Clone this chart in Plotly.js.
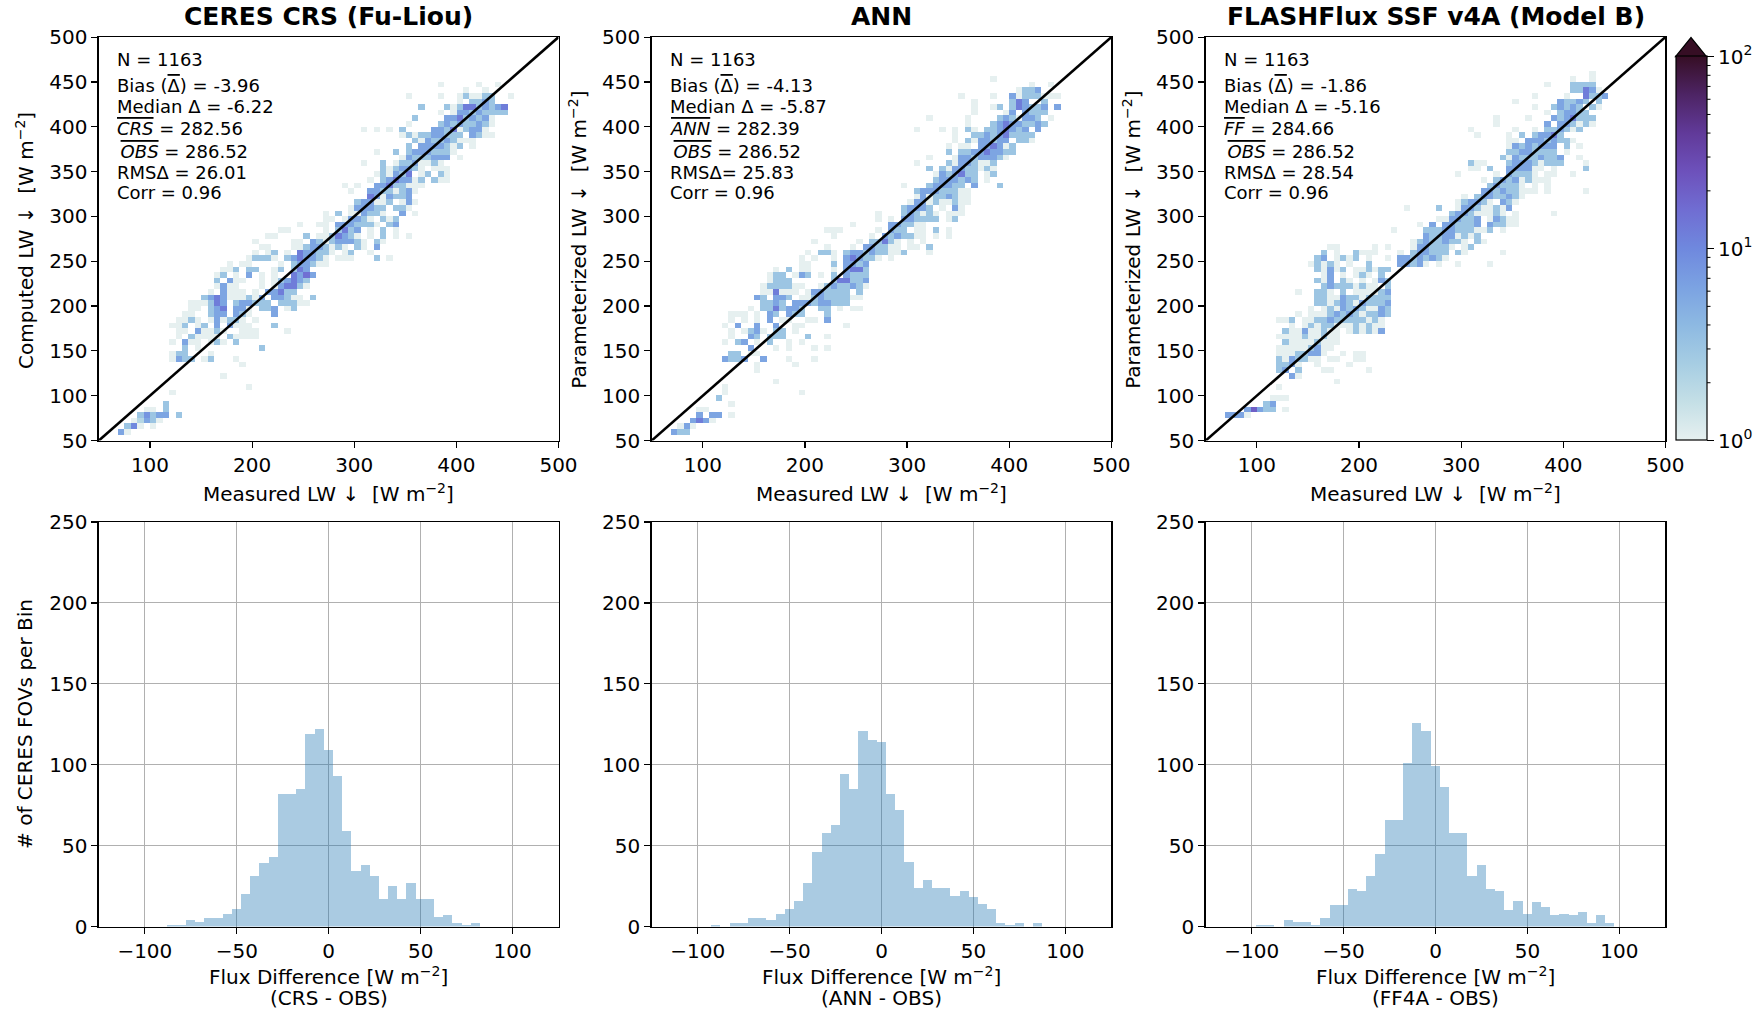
<!DOCTYPE html>
<html><head><meta charset="utf-8">
<script src="https://cdn.plot.ly/plotly-3.0.1.min.js"></script>
<style>html,body{margin:0;padding:0;background:#fff;}#chart{width:1762px;height:1013px;}</style>
</head><body><div id="chart"></div>
<script>
// ---------------- DATA ----------------
// 2-D histogram bins (W m-2)
const binStart = 50, binSize = 6.25, nBins = 72;

// CERES CRS: rows = computed LW bin value, meas = measured LW bin values, count = FOVs per cell
const crsRows = [59,66,72,78,84,91,103,109,122,134,141,147,153,159,166,172,178,184,191,197,203,209,216,222,228,234,241,247,253,259,266,272,278,284,291,297,303,309,316,322,328,334,341,347,353,359,366,372,378,384,391,397,403,409,416,422,428,434,441,447];
const crsMeas = [
[72,78],[78,84,91,103],[84,91,97,103,109],[91,97,103,109,116,128],[97,103,116],[116],[122],[197],[172],[191],
[122,128,134,141,153,159,184],[122,128,134,159],[134,147,209],[122,134,141,147,159,166,172,184],
[128,141,147,153,159,166,178,184,191,197,203],[128,134,147,153,159,166,172,191,197,203,234],
[122,128,134,147,153,166,178,184,191,197,222],[128,134,141,147,159,166,172,178,184,191,203],
[134,141,159,166,172,184,191,197,222],[141,147,159,166,172,184,191,197,209,216,222,234,241],
[141,147,153,159,166,172,184,191,197,203,209,216,228,234,241,247,253],
[153,159,166,172,178,184,191,197,203,209,222,228,234,241,247,259],
[159,172,178,184,191,203,216,222,228,234,241],[166,172,178,184,209,222,228,234,241,247,253],
[166,178,184,191,209,222,228,234,241,247,253],[166,172,184,197,209,222,241,247,253,259],
[172,178,184,197,203,222,228,241,247,253],[178,191,197,228,241,247,253,259,266,272],
[197,203,209,216,222,234,241,247,253,259,266,272,284,291,297,322,334],
[203,216,222,234,247,253,259,266,272,278,291,297,316],
[209,216,241,247,253,259,266,272,278,284,291,303,309,322],
[203,241,247,259,266,272,278,284,291,297,303,309,322,328],
[216,222,253,266,272,278,284,291,297,303,316,328,341,353],
[228,234,272,284,291,297,303,316,328,341],
[247,266,272,284,291,297,303,309,316,322,334,341],
[272,278,291,297,303,309,316,328,334,341],
[272,284,297,303,309,316,322,328,347,359],
[297,303,309,316,322,328,341,347,353],
[303,309,316,322,328,334,347,353,359],
[316,322,328,334,341,347,353],
[297,316,322,328,334,341,347,353,359],
[291,303,322,328,334,341,347,353,359,366],
[316,328,334,341,347,353,359,366,378,384,391],
[322,328,334,341,347,353,366,372,384,391],
[328,334,341,347,353,359,366,378,384,391],
[309,328,341,347,353,359,366,372,378,384],
[347,353,359,366,372,378,384,391,403],
[322,341,353,359,366,372,378,384,391,397],
[353,366,372,378,384,391,397,403,416],
[359,366,372,378,384,391,397,403,409,416],
[347,353,359,366,372,378,384,391,397,403,416,422,428,434],
[309,322,334,347,378,384,391,397,403,409,416,422,428],
[353,384,391,397,403,409,416,422,428,434],
[359,391,397,403,409,416,422,428,434],
[384,397,403,409,416,422,428,434,441,447],
[366,391,397,403,409,416,422,428,434,441,447],
[403,416,422,428,434],
[353,384,403,409,416,422,428,434,453],
[409,428],[384,422,441]];
const crsCount = [
[6,1],[3,10,1,1],[1,2,6,3,1],[3,8,3,6,6,3],[1,1,3],[3],[1],[1],[1],[1],
[1,6,3,3,1,3,1],[1,3,3,1],[3,1,3],[1,6,1,1,1,3,1,3],
[1,3,1,1,1,1,3,1,1,1,1],[1,1,6,1,1,3,1,1,1,1,1],
[1,1,3,1,3,6,6,1,1,1,3],[1,1,3,1,1,6,1,3,3,1,1],
[1,1,3,6,6,6,3,1,6],[1,1,3,6,12,6,6,1,3,3,6,1,3],
[1,1,1,3,12,6,3,6,6,3,3,3,3,3,3,1,1],
[3,6,12,6,1,1,1,3,1,6,6,6,3,1,1,3],
[1,6,1,1,1,1,6,6,12,3,3],[1,6,1,1,1,1,6,12,12,3,1],
[3,6,1,1,1,1,3,6,12,6,3],[1,3,1,6,1,1,12,6,15,6],
[1,1,3,3,3,1,3,3,12,6],[1,1,1,1,3,6,6,3,1,1],
[1,3,3,3,1,3,6,12,6,6,3,1,1,1,1,3,1],
[1,1,3,1,12,6,6,3,3,1,1,3,1],
[1,1,1,1,3,6,6,3,1,3,1,3,1,6],
[1,1,1,6,3,1,3,6,6,6,3,1,3,1],
[1,1,3,1,1,3,12,6,3,1,1,3,1,1],
[1,1,1,3,12,3,6,1,3,1],
[1,1,1,6,6,6,3,3,3,1,3,6],
[1,1,1,6,6,3,1,3,1,3],
[1,3,1,1,6,3,3,1,6,1],
[1,6,6,6,3,3,3,3,1],
[3,6,6,1,1,3,1,6,1],
[12,6,1,6,3,3,6],
[1,6,6,3,3,1,3,6,1],
[1,1,6,6,12,3,3,1,1,1],
[1,3,6,12,6,6,1,3,3,1,1],
[1,3,1,6,3,12,1,3,3,1],
[3,1,3,6,6,3,1,1,1,1],
[1,3,1,3,3,6,1,1,3,1],
[1,6,3,3,3,6,6,6,1],
[1,3,3,6,6,6,3,3,3,1],
[3,6,6,6,6,3,1,3,1],
[3,1,6,3,3,6,3,1,1,1],
[1,3,1,3,3,6,6,3,3,3,6,3,1,1],
[1,1,1,3,6,6,3,12,1,3,6,6,1],
[1,3,6,3,6,3,3,6,3,1],
[3,6,6,12,3,6,3,6,1],
[1,1,6,6,3,6,3,3,3,3],
[3,3,1,3,12,12,3,6,3,6,12],
[1,3,3,6,3],
[1,1,1,3,1,1,3,3,1],
[1,1],[1,1,1]];

// ANN
const annRows = [59,66,72,78,84,91,97,103,109,116,128,134,141,147,153,159,166,172,178,184,191,197,203,209,216,222,228,234,241,247,253,259,266,272,278,284,291,297,303,309,316,322,328,334,341,347,353,359,366,372,378,384,391,397,403,409,416,422,428,434,441,447,453];
const annMeas = [
[72,78,84],[78,84,91],[91,97,103,109],[97,109,116,128],[97,103],[128],[116],[122,197],[122],[172],[153],[153,191],
[122,128,134,141,159,184,209],[128,134,147,153],[147,172,184,209,222],[122,134,141,153,166,184,197],
[128,147,153,166,172,178,203,222],[128,141,147,153,159,172,178,191],[122,134,153,172,191,197,241],
[128,141,153,166,178,184,203,209,222],[128,134,141,153,166,172,184,191,197,222],
[147,159,166,172,178,184,191,197,216,222,234,247,253],
[159,166,172,178,191,197,203,209,216,222,228,234,241],
[153,159,172,178,184,197,203,209,216,222,228,234,241,247,253],
[159,166,172,178,184,191,203,209,216,222,228,234,241,253],
[159,166,172,178,184,191,197,216,222,228,234,241,247,253,259],
[166,172,178,184,228,234,241,247,253,259],
[166,172,178,191,197,203,216,228,241,247,253,259],
[172,184,197,203,228,241,247,253,259],
[197,203,228,241,247,253,259],
[197,209,228,241,247,253,259,266,272,284],
[203,216,222,228,241,247,253,259,266,272,278,284,291,297,322],
[222,247,259,266,272,278,284,291,303,309,322],
[209,253,266,272,278,284,291,303,316],
[228,266,278,284,291,297,303,309,316,328,341],
[222,228,234,272,284,291,297,309,316,328,341],
[247,284,291,297,303,309,316],
[272,284,297,303,309,316,322,328,341,347],
[272,297,303,309,316,322,328,341,347,353],
[297,303,309,316,322,334,347,353],
[303,309,316,322,328,334,341,347,353,359],
[309,316,322,328,334,341,347,353,359],
[309,316,322,328,334,341,347,353,359],
[297,322,328,334,341,347,353,366,391],
[328,334,341,347,353,359,366,378],
[328,334,341,347,353,359,366,378,384],
[322,334,341,347,353,359,366,372,378,384],
[309,341,347,353,359,366,372,378,384],
[322,347,353,359,366,372,378,384,391,397],
[341,353,359,366,372,378,384,391,397,403],
[341,353,359,372,378,384,391,397,403],
[347,359,366,372,378,384,391,397,409,416,422],
[347,366,372,378,384,391,397,403,409,416,422],
[309,334,347,359,366,378,384,391,397,403,409,416,428],
[359,384,391,397,403,409,416,422,428,434],
[322,359,391,397,403,409,416,422,428,441],
[366,397,403,416,422,428,434],
[366,384,391,403,409,416,422,428,434,447],
[366,403,409,416,434],
[353,384,403,409,416,422,428,434,441,447],
[409,416,422,428],[422,441],[384]];
const annCount = [
[6,3,3],[1,6,1],[6,12,6,1],[6,6,6,1],[1,1],[1],[3],[1,1],[1],[1],[1],[1,1],
[6,3,3,6,6,1,1],[3,3,1,1],[6,1,1,1,1],[1,3,6,1,3,1,1],
[1,6,3,3,3,3,3,1],[1,1,3,6,1,3,3,1],[1,6,6,6,1,1,1],
[1,1,1,6,1,1,1,1,6],[1,1,1,1,6,3,6,3,3,3],
[1,3,3,12,3,6,6,3,3,3,1,1,1],
[3,3,6,3,6,6,6,3,6,6,3,3,3],
[6,3,6,6,3,1,1,3,6,3,3,3,3,1,1],
[1,1,12,1,1,1,1,6,6,3,3,3,3,3],
[1,3,3,3,3,1,1,1,3,6,3,3,6,3,1],
[1,3,3,3,3,12,12,3,3,6],
[1,3,3,1,6,3,1,3,6,3,3,3],
[1,3,1,1,1,6,12,12,3],
[1,1,3,6,6,3,6],
[1,1,1,6,12,6,3,3,1,1],
[1,3,3,1,3,6,6,3,6,3,3,1,1,3,1],
[1,1,6,6,3,3,1,1,1,1,3],
[1,1,3,3,12,3,1,1,1],
[1,1,6,3,6,3,3,1,1,1,1],
[1,1,1,1,6,3,3,1,1,3,1],
[1,6,6,3,3,1,1],
[1,1,6,6,3,3,3,3,1,3],
[1,3,6,3,1,3,1,1,1,1],
[3,6,6,6,3,1,6,1],
[1,6,6,1,3,1,1,3,1,1],
[1,6,1,3,3,6,3,1,1],
[3,6,6,6,3,3,3,1,1],
[1,3,6,6,6,3,3,6,3],
[3,6,6,6,3,6,3,1],
[1,6,3,6,12,3,3,1,3],
[3,3,1,6,6,3,3,1,3,1],
[1,3,1,6,6,3,1,1,3],
[1,1,6,6,3,6,6,6,3,1],
[3,3,3,6,6,12,6,6,3,3],
[1,1,1,6,6,12,6,1,3],
[1,3,1,6,6,3,6,6,3,3,1],
[1,3,3,6,3,6,12,3,3,3,3],
[1,1,1,3,1,3,3,6,12,6,3,6,6],
[1,3,6,12,6,6,3,3,6,3],
[1,1,3,6,3,1,6,6,3,1],
[1,1,6,6,3,3,3],
[1,1,3,3,12,6,3,3,6,6],
[1,3,12,6,3],
[1,1,6,1,3,3,3,1,1,1],
[1,3,3,6],[1,1],[1]];

// FLASHFlux SSF v4A (Model B)
const ffRows = [78,84,91,97,109,116,122,128,134,141,147,153,159,166,172,178,184,191,197,203,209,216,222,228,234,241,247,253,259,266,272,278,284,291,297,303,309,316,322,328,334,341,347,353,359,366,372,378,384,391,397,403,409,416,422,428,434,441,447,453,459];
const ffMeas = [
[72,78,84,91],[91,97,103,109,116,128],[109,116],[116,122,128],[122],[178],[134,141],
[122,128,141,166,172,209],[122,128,134,141,159,191],
[122,128,134,141,147,153,159,172,178,197,203],
[122,128,134,141,147,153,159,166,184,197,203],
[122,128,134,141,147,153,159,166,172],
[128,134,141,147,153,159,166,172,178],
[122,128,134,141,147,153,159,166,172,178],
[128,134,141,147,153,159,166,172,178,191,197,203,209,216,222],
[134,147,153,159,166,172,178,184,191,197,203,209,216,222],
[122,128,134,147,153,159,166,172,178,184,191,197,203,209,216,222],
[141,153,159,166,172,178,184,191,197,203,209,216,222,228],
[153,166,172,178,184,191,197,203,209,216,222,228],
[159,166,172,178,184,191,197,203,209,216,222,228],
[159,166,172,178,184,191,197,203,209,216,222,228],
[141,159,166,172,184,197,203,209,216,222,228],
[166,172,178,184,191,197,203,209,216,228],
[159,166,172,184,191,203,216,222,228],
[166,172,184,197,203,209,222],
[159,166,172,178,184,197,203,209,216,222,228],
[153,159,166,172,178,191,209,241,247,253,259,266,278,297,328],
[159,166,178,184,191,197,209,228,241,247,253,259,266,272,278,284],
[166,178,197,203,209,216,241,253,259,266,272,278,284,297,303,341],
[172,178,216,228,253,259,266,272,278,284,291,303,309],
[253,259,266,272,278,284,291,297,303,316,322],
[266,272,278,284,291,297,303,309,316],
[234,266,272,278,284,291,297,303,309,316,322,328,341],
[259,272,284,291,297,303,309,316,328,334,341,347,353],
[278,284,291,297,303,309,316,328,334,341,347,353],
[291,297,303,309,316,322,328,334,341,353,391],
[247,278,297,303,309,316,322,328,334,341,347],
[297,303,309,316,322,328,341,347,353],
[303,316,322,328,334,341,347,353,359],
[322,328,334,341,347,353,359,366,372,384,422],
[328,334,341,347,353,359,372,384],
[322,334,341,347,353,359,366,372,378,384],
[297,334,347,353,359,366,372,384,391,409],
[309,316,328,347,353,359,366,372,378,391,422],
[309,316,322,347,353,359,366,372,378,384,391,397,422],
[341,347,353,359,366,372,378,384,391,397,416],
[347,353,359,366,372,378,384,391,403],
[347,353,359,366,372,378,384,391,403,416],
[347,353,366,372,378,384,391,397,403,409],
[316,347,359,372,378,384,391,397],
[309,353,372,384,391,397,403,409,416],
[334,384,397,403,409,416,422,428],
[334,366,391,397,403,409,416,422,428],
[384,397,403,409,416,422],
[372,391,397,403,409,416,428,434],
[353,397,403,409,416,422,434],
[372,403,422,428,434,441],
[409,416,422,428,434],
[384,409,416,422,428],
[409,428],[428]];
const ffCount = [
[6,6,6,1],[6,20,6,3,3,1],[3,6],[1,1,1],[1],[1],[6,1],
[3,6,3,1,1,1],[3,3,6,1,1,1],
[3,1,6,3,3,1,1,1,1,1,1],
[1,1,1,3,3,6,6,1,1,1,1],
[1,1,1,1,1,3,6,1,1],
[3,1,1,1,1,3,1,1,1],
[1,1,1,1,3,1,1,3,1,1],
[3,1,1,6,1,1,3,1,1,1,3,1,3,1,6],
[1,1,3,1,3,3,1,1,1,3,1,3,1,1],
[1,1,3,1,1,3,3,6,3,3,3,3,3,1,3,1],
[1,1,1,1,3,6,3,6,3,1,3,3,6,3],
[1,1,3,1,6,3,6,3,1,1,6,3],
[3,3,1,3,6,3,1,6,3,3,3,6],
[3,3,1,1,6,3,3,1,3,3,3,3],
[1,3,3,1,3,1,1,1,1,3,6],
[3,6,3,3,3,1,3,1,1,3],
[3,1,6,3,1,1,1,6,3],
[1,6,1,1,3,1,3],
[3,1,6,1,3,1,1,3,1,3,3],
[1,3,1,3,1,1,3,6,6,3,6,1,1,1,1],
[3,6,1,3,1,3,1,1,6,6,3,6,3,6,3,1],
[3,1,3,1,1,1,1,3,6,6,3,3,3,3,1,1],
[1,1,1,1,1,6,6,3,3,3,1,1,3],
[1,3,6,3,3,6,3,3,1,3,1],
[6,3,3,6,6,1,3,1,3],
[1,3,3,3,6,6,3,3,3,1,1,3,1],
[1,6,6,6,3,3,3,6,6,3,3,1,1],
[1,1,6,6,3,3,6,1,6,3,1,1],
[3,6,6,3,1,1,1,3,1,1,1],
[1,3,1,6,6,3,1,1,3,1,6],
[1,3,6,6,3,1,6,3,1],
[1,3,6,6,3,3,6,3,1],
[6,6,3,6,3,3,1,1,1,1,1],
[3,6,3,3,3,1,1,1],
[1,3,6,3,6,1,3,1,1,1],
[1,1,6,3,3,3,1,1,1,1],
[1,1,3,6,6,6,6,1,1,1,3],
[3,1,1,3,6,6,6,3,1,3,3,3,1],
[3,1,6,3,3,3,6,3,3,6,1],
[3,3,6,6,3,3,3,3,1],
[1,6,3,6,3,6,6,6,3,1],
[1,1,6,6,6,3,6,3,3,1],
[1,1,3,3,6,6,12,3],
[1,1,1,3,3,6,3,1,3],
[1,6,6,6,3,1,3,1],
[1,1,6,3,6,12,3,3,3],
[1,3,6,6,3,3],
[1,3,6,3,6,3,3,1],
[1,6,3,3,6,3,3],
[1,1,12,3,3,6],
[3,3,12,6,1],
[1,3,3,3,3],
[1,1],[1]];

// 1-D histograms of flux differences (model - obs), bin width 5 W m-2
const histBinWidth = 5.0;
const crsHistStart = -87.7;
const crsHist = [1,1,4,3,5,5,8,11,20,31,39,43,82,82,85,119,122,109,93,59,34,38,31,17,25,17,27,17,17,6,7,2,1,2];
const annHistStart = -92.6;
const annHist = [1,0,2,2,5,5,4,8,11,16,27,46,58,63,94,85,121,115,114,82,72,40,24,29,24,24,19,22,18,14,11,2,1,2,0,2];
const ffHistStart = -97.7;
const ffHist = [1,1,0,4,3,3,1,5,13,13,23,22,31,45,66,66,101,126,121,99,86,58,58,31,38,23,22,10,16,8,15,12,7,8,7,9,2,7,2];

// statistics text
const panelTitles = ['CERES CRS (Fu-Liou)', 'ANN', 'FLASHFlux SSF v4A (Model B)'];
const nFOV = 1163;
const modelNames = ['CRS', 'ANN', 'FF'];
const biasVals = ['-3.96', '-4.13', '-1.86'];
const medianVals = ['-6.22', '-5.87', '-5.16'];
const modelMeans = ['282.56', '282.39', '284.66'];
const obsMean = '286.52';
const rmsLabels = ['RMSΔ = ', 'RMSΔ= ', 'RMSΔ = '];
const rmsVals = ['26.01', '25.83', '28.54'];
const corrVals = ['0.96', '0.96', '0.96'];
const yLabels = ['Computed LW ↓  [W m<sup>−2</sup>]', 'Parameterized LW ↓  [W m<sup>−2</sup>]', 'Parameterized LW ↓  [W m<sup>−2</sup>]'];
const diffLabels = ['(CRS - OBS)', '(ANN - OBS)', '(FF4A - OBS)'];

// ---------------- LAYOUT HELPERS ----------------
const W = 1762, H = 1013;
const F = 'DejaVu Sans, Verdana, sans-serif';
const TICK = 20, LAB = 20, TXT = 18, TTL = 25;
const px = x => x / W;
const py = y => 1 - y / H;
const cols = [[98.9, 558.5], [651.7, 1111.4], [1205.8, 1665.4]];
const topRow = [37.1, 440.5], botRow = [522, 926.5];

const centers = Array.from({length: nBins}, (_, k) => binStart + binSize * (k + 0.5));
function buildZ(rows, meas, counts) {
  const z = Array.from({length: nBins}, () => Array(nBins).fill(null));
  rows.forEach((yv, r) => {
    const j = Math.floor((yv - binStart) / binSize);
    meas[r].forEach((xv, c) => {
      const i = Math.floor((xv - binStart) / binSize);
      z[j][i] = Math.log10(counts[r][c]);
    });
  });
  return z;
}

const dense = [
  [0.00, '#e6f0f0'], [0.10, '#c4dfe6'], [0.20, '#a6cde3'], [0.30, '#8db9e2'],
  [0.40, '#7ba2e2'], [0.50, '#6f88de'], [0.60, '#706dd2'], [0.70, '#6d51bb'],
  [0.80, '#613a99'], [0.90, '#4d2464'], [1.00, '#360e24']
];

const sets = [[crsRows, crsMeas, crsCount], [annRows, annMeas, annCount], [ffRows, ffMeas, ffCount]];
const hists = [[crsHistStart, crsHist], [annHistStart, annHist], [ffHistStart, ffHist]];
const oneToOne = [50, 500];

const traces = [];
const layout = {
  width: W, height: H, margin: {l: 0, r: 0, t: 0, b: 0},
  paper_bgcolor: 'white', plot_bgcolor: 'white', showlegend: false,
  font: {family: F, size: TXT, color: 'black'},
  bargap: 0,
  coloraxis: {
    cmin: 0, cmax: 2, colorscale: dense,
    colorbar: {
      x: px(1675.5), xanchor: 'left', xpad: 0,
      y: py(440.5), yanchor: 'bottom', ypad: 0,
      len: (440.5 - 56.7) / H, lenmode: 'fraction',
      thickness: 31, thicknessmode: 'pixels',
      outlinewidth: 1.2, outlinecolor: 'black',
      tickvals: [0, 1, 2], ticktext: ['10<sup>0</sup>', '10<sup>1</sup>', '10<sup>2</sup>'],
      ticks: 'outside', ticklen: 7, tickwidth: 1.2, tickcolor: 'black',
      tickfont: {family: F, size: TICK, color: 'black'}
    }
  },
  annotations: [], shapes: []
};

const axBase = {
  showline: true, mirror: true, linecolor: 'black', linewidth: 1.5,
  ticks: 'outside', ticklen: 6, tickwidth: 1.2, tickcolor: 'black',
  tickfont: {family: F, size: TICK, color: 'black'},
  zeroline: false, showgrid: false, fixedrange: true
};

function ann(x, y, text, opts) {
  layout.annotations.push(Object.assign({
    xref: 'paper', yref: 'paper', x: px(x), y: py(y), text: text, showarrow: false,
    xanchor: 'center', yanchor: 'middle', font: {family: F, size: LAB, color: 'black'}
  }, opts || {}));
}

for (let p = 0; p < 3; p++) {
  const tn = p + 1, bn = p + 4;
  const tx = 'x' + (tn === 1 ? '' : tn), ty = 'y' + (tn === 1 ? '' : tn);
  const bx = 'x' + bn, by = 'y' + bn;
  const [L, R] = cols[p];

  // top: 2-D histogram + 1:1 line
  const [rows, meas, counts] = sets[p];
  traces.push({type: 'heatmap', x: centers, y: centers, z: buildZ(rows, meas, counts),
    coloraxis: 'coloraxis', xaxis: tx, yaxis: ty, zsmooth: false, hoverongaps: false});
  traces.push({type: 'scatter', mode: 'lines', x: oneToOne, y: oneToOne,
    line: {color: 'black', width: 2.6}, xaxis: tx, yaxis: ty, hoverinfo: 'skip'});

  layout['xaxis' + (tn === 1 ? '' : tn)] = Object.assign({}, axBase, {
    domain: [px(L), px(R)], anchor: ty, range: [50, 500], tickvals: [100, 200, 300, 400, 500]});
  layout['yaxis' + (tn === 1 ? '' : tn)] = Object.assign({}, axBase, {
    domain: [py(topRow[1]), py(topRow[0])], anchor: tx, range: [50, 500],
    tickvals: [50, 100, 150, 200, 250, 300, 350, 400, 450, 500]});

  // bottom: histogram of differences
  const [hs, hv] = hists[p];
  traces.push({type: 'bar', x: hv.map((_, k) => hs + histBinWidth * (k + 0.5)), y: hv,
    width: histBinWidth, marker: {color: 'rgba(31,119,180,0.38)', line: {width: 0}},
    xaxis: bx, yaxis: by, hoverinfo: 'skip'});
  layout['xaxis' + bn] = Object.assign({}, axBase, {
    domain: [px(L), px(R)], anchor: by, range: [-125, 125],
    tickvals: [-100, -50, 0, 50, 100], ticktext: ['−100', '−50', '0', '50', '100'],
    showgrid: true, gridcolor: '#b0b0b0', gridwidth: 1});
  layout['yaxis' + bn] = Object.assign({}, axBase, {
    domain: [py(botRow[1]), py(botRow[0])], anchor: bx, range: [0, 250],
    tickvals: [0, 50, 100, 150, 200, 250], showgrid: true, gridcolor: '#b0b0b0', gridwidth: 1});

  // titles and labels
  ann((L + R) / 2, 16, '<b>' + panelTitles[p] + '</b>', {font: {family: F, size: TTL, color: 'black'}});
  ann((L + R) / 2, 493, 'Measured LW ↓  [W m<sup>−2</sup>]');
  ann(L - 74, 240, yLabels[p], {textangle: -90});
  ann((L + R) / 2, 976, 'Flux Difference [W m<sup>−2</sup>]');
  ann((L + R) / 2, 998, diffLabels[p], {borderpad: 0});

  // statistics block
  const ol = t => '<span style="text-decoration:overline">' + t + '</span>';
  const lines = [
    'N = ' + nFOV,
    'Bias (' + ol('Δ') + ') = ' + biasVals[p],
    'Median Δ = ' + medianVals[p],
    ol('<i>' + modelNames[p] + '</i>') + ' = ' + modelMeans[p],
    '\u2009' + ol('<i>OBS</i>') + ' = ' + obsMean,
    rmsLabels[p] + rmsVals[p],
    'Corr = ' + corrVals[p]
  ];
  const lineY = [60, 86, 106, 128, 151, 172.5, 192];
  lines.forEach((t, k) => ann(L + 16, lineY[k], t, {xanchor: 'left', font: {family: F, size: TXT, color: 'black'}}));
}
ann(24.9, 724, '# of CERES FOVs per Bin', {textangle: -90});

// colorbar extension triangle and minor ticks
const cbL = 1675.5, cbR = 1706.5, cbBot = 440.5, cbTop = 56.7, cbTip = 37.5;
layout.shapes.push({type: 'path', xref: 'paper', yref: 'paper',
  path: `M ${px(cbL)},${py(cbTop)} L ${px(cbR)},${py(cbTop)} L ${px((cbL + cbR) / 2)},${py(cbTip)} Z`,
  fillcolor: '#360e24', line: {color: 'black', width: 1.2}});
[1, 10].forEach(d => {
  for (let m = 2; m <= 9; m++) {
    const yy = cbBot - Math.log10(d * m) / 2 * (cbBot - cbTop);
    layout.shapes.push({type: 'line', xref: 'paper', yref: 'paper',
      x0: px(cbR), x1: px(cbR + 4), y0: py(yy), y1: py(yy), line: {color: 'black', width: 1}});
  }
});

Plotly.newPlot('chart', traces, layout, {staticPlot: true, displayModeBar: false});
</script></body></html>
